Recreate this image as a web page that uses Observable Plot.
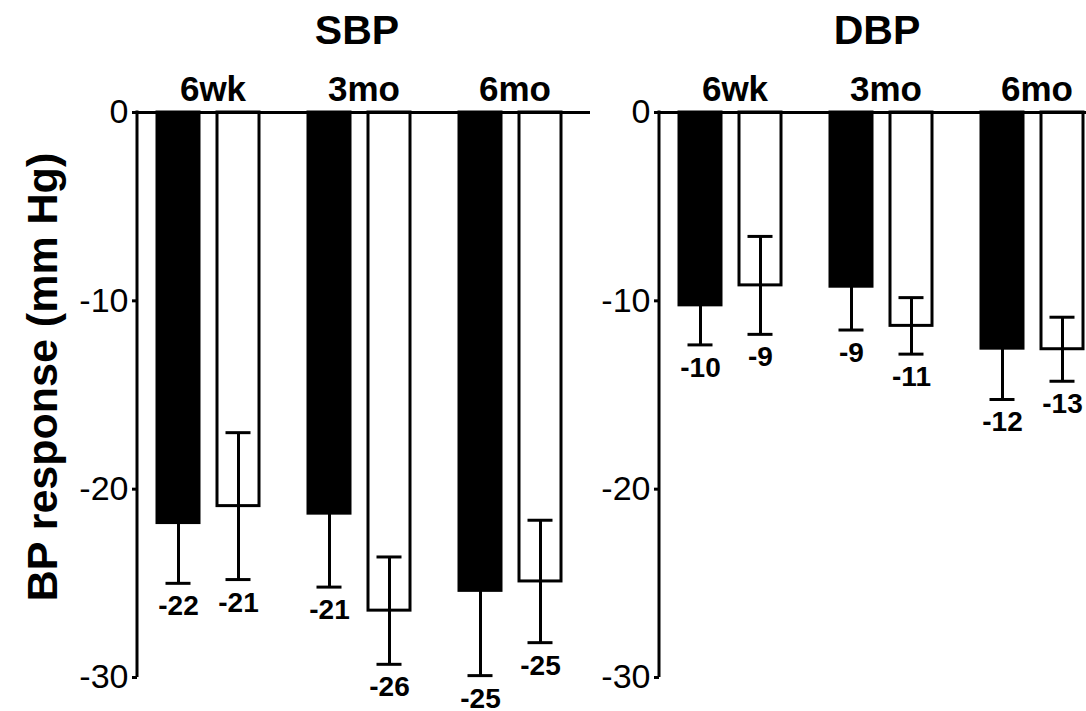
<!DOCTYPE html>
<html><head><meta charset="utf-8">
<script src="https://cdn.jsdelivr.net/npm/d3@7"></script>
<script src="https://cdn.jsdelivr.net/npm/@observablehq/plot@0.6"></script>
<style>
html,body{margin:0;padding:0;background:#fff;}
#wrap{position:relative;width:1086px;height:711px;overflow:hidden;font-family:"Liberation Sans",Arial,Helvetica,sans-serif;color:#000;background:#fff;}
.title{position:absolute;top:10px;font-weight:bold;font-size:41px;line-height:1;transform:translateX(-50%);white-space:nowrap;}
#ylab{position:absolute;left:42px;top:377px;font-weight:bold;font-size:43px;line-height:1;white-space:nowrap;transform:translate(-50%,-50%) rotate(-90deg);}
.panel{position:absolute;top:0;}
.panel svg{max-width:none !important;overflow:visible;}
</style></head>
<body><div id="wrap">
<div class="title" id="t1" style="left:357px"></div>
<div class="title" id="t2" style="left:877px"></div>
<div id="ylab"></div>
<div class="panel" id="p1" style="left:0px"></div>
<div class="panel" id="p2" style="left:579px"></div>
</div>
<script>
// ---- data ----
const panelTitles = ["SBP", "DBP"];
const yTitle = "BP response (mm Hg)";
const groups = ["6wk", "3mo", "6mo"];
const series = ["A", "B"];          // A = filled bars, B = open bars
const yTicks = [0, -10, -20, -30];

const sbpA = [-21.8, -21.3, -25.4];
const sbpAse = [3.2, 3.9, 4.5];
const sbpALabels = ["-22", "-21", "-25"];
const sbpB = [-20.9, -26.45, -24.9];
const sbpBse = [3.9, 2.85, 3.25];
const sbpBLabels = ["-21", "-26", "-25"];

const dbpA = [-10.24, -9.25, -12.54];
const dbpAse = [2.1, 2.3, 2.7];
const dbpALabels = ["-10", "-9", "-12"];
const dbpB = [-9.18, -11.33, -12.57];
const dbpBse = [2.6, 1.5, 1.7];
const dbpBLabels = ["-9", "-11", "-13"];

document.getElementById("t1").textContent = panelTitles[0];
document.getElementById("t2").textContent = panelTitles[1];
document.getElementById("ylab").textContent = yTitle;

function rowsFor(vals, ses, labs) {
  const rows = [];
  groups.forEach((g, i) => series.forEach((s, j) => {
    rows.push({group: g, series: s, value: vals[j][i], se: ses[j][i], label: labs[j][i]});
  }));
  return rows;
}

function panel(rows, marginLeft) {
  const lo = d => d.value - d.se, hi = d => d.value + d.se;
  const plot = Plot.plot({
    width: marginLeft + 453,
    height: 711,
    marginTop: 112,
    marginBottom: 34,
    marginLeft,
    marginRight: 0,
    style: {background: "transparent", fontFamily: "'Liberation Sans', Arial, Helvetica, sans-serif", color: "black", overflow: "visible"},
    fx: {domain: groups, padding: 0, label: null},
    x: {domain: series, paddingInner: 0.3, paddingOuter: 0.408, align: 0.408, axis: null},
    y: {domain: [-30, 0]},
    color: {domain: series, range: ["black", "white"]},
    marks: [
      Plot.barY(rows, {fx: "group", x: "series", y: "value", fill: "series", stroke: "black", strokeWidth: 3}),
      Plot.ruleX(rows, {fx: "group", x: "series", y1: lo, y2: hi, stroke: "black", strokeWidth: 3}),
      Plot.tickY(rows, {fx: "group", x: "series", y: lo, stroke: "black", strokeWidth: 3, insetLeft: 8.5, insetRight: 8.5}),
      Plot.tickY(rows, {fx: "group", x: "series", y: hi, stroke: "black", strokeWidth: 3, insetLeft: 8.5, insetRight: 8.5}),
      Plot.ruleY([0], {stroke: "black", strokeWidth: 3}),
      Plot.text(rows, {fx: "group", x: "series", y: lo, text: "label", dy: 23, fontSize: 28, fontWeight: "bold", fill: "black"}),
      Plot.axisY({ticks: yTicks, tickFormat: d => String(d), tickSize: 5, tickPadding: 4, fontSize: 34, strokeWidth: 3, label: null}),
      Plot.axisFx({anchor: "top", tickSize: 0, tickPadding: 12, fontSize: 35, fontWeight: "bold", label: null})
    ]
  });
  const y = plot.scale("y");
  d3.select(plot).append("line")
    .attr("x1", marginLeft).attr("x2", marginLeft)
    .attr("y1", y.apply(0) - 1.5).attr("y2", y.apply(-30))
    .attr("stroke", "black").attr("stroke-width", 3);
  return plot;
}

document.getElementById("p1").appendChild(panel(rowsFor([sbpA, sbpB], [sbpAse, sbpBse], [sbpALabels, sbpBLabels]), 137));
document.getElementById("p2").appendChild(panel(rowsFor([dbpA, dbpB], [dbpAse, dbpBse], [dbpALabels, dbpBLabels]), 80));
</script>
</body></html>
